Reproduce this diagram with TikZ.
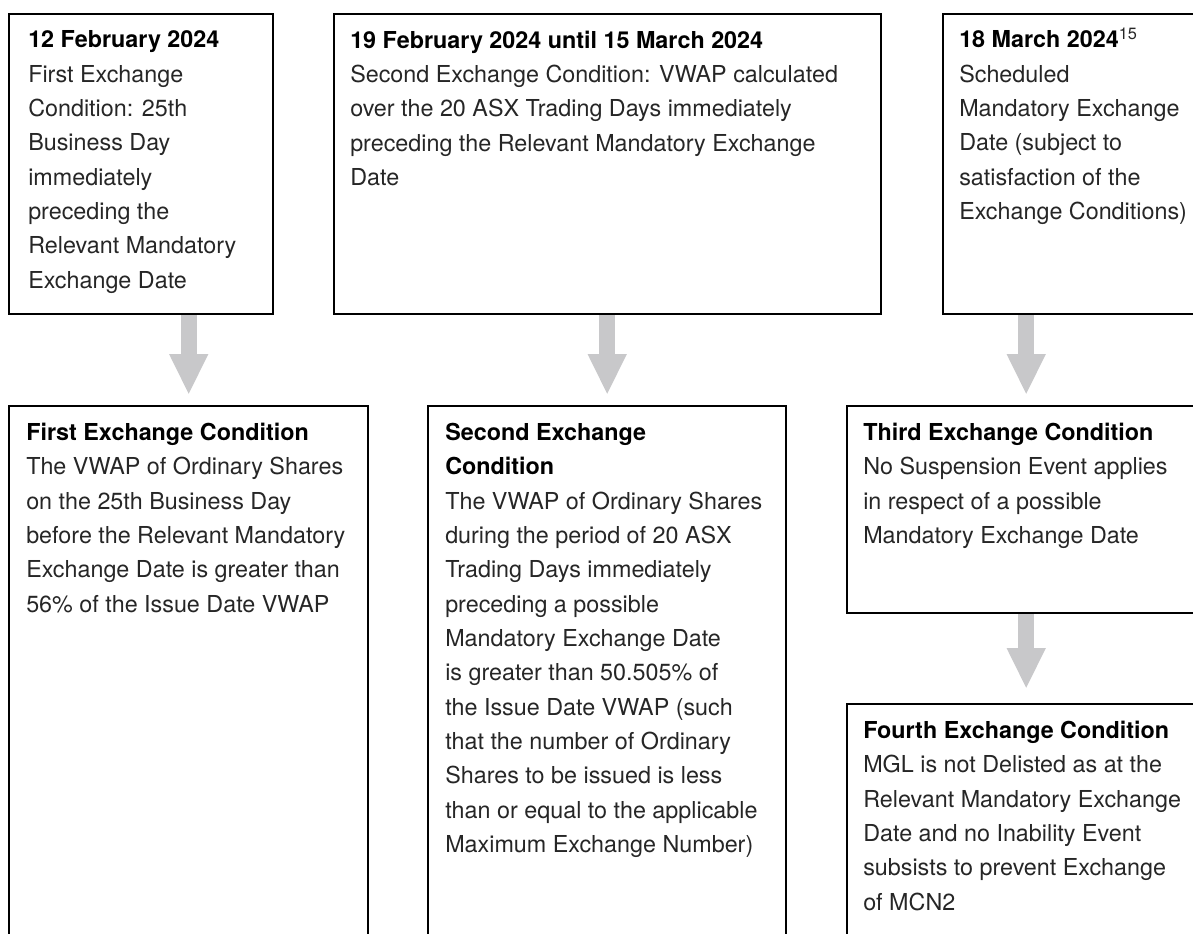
\documentclass[tikz,border=0pt]{standalone}
\usepackage{fontspec}
\setmainfont{TeX Gyre Heros}
\usetikzlibrary{arrows.meta}
\definecolor{arrowgray}{HTML}{C8C8CA}
\definecolor{bodytext}{HTML}{262626}
\newcommand{\hd}[1]{{\color{black}\bfseries #1}}
\begin{document}
\begin{tikzpicture}[x=0.75pt,y=-0.75pt,
  box/.style={draw=black, line width=1.8pt, anchor=north west, inner sep=0pt},
  txt/.style={anchor=north west, inner sep=0pt, align=left, text=bodytext,
    font=\fontsize{17.5}{25.75}\selectfont},
  bigarrow/.style={draw=arrowgray, line width=12pt,
    -{Triangle[width=27pt,length=30.75pt]}}]
\useasboundingbox (0,0) rectangle (1193,933);
\clip (0,0) rectangle (1193,933);

% boxes
\node[box, minimum width=264*0.75pt, minimum height=300*0.75pt] (t1) at (8,13) {};
\node[box, minimum width=547*0.75pt, minimum height=300*0.75pt] (t2) at (333,13) {};
\node[box, minimum width=262*0.75pt, minimum height=300*0.75pt] (t3) at (942,13) {};
\node[box, minimum width=359*0.75pt, minimum height=560*0.75pt] (bA) at (8,405) {};
\node[box, minimum width=358*0.75pt, minimum height=560*0.75pt] (bB) at (427,405) {};
\node[box, minimum width=358*0.75pt, minimum height=207*0.75pt] (bC) at (846,405) {};
\node[box, minimum width=358*0.75pt, minimum height=300*0.75pt] (bD) at (846,703) {};

% arrows
\draw[bigarrow, shorten >=7.5pt] (bA.north |- t1.south) -- (bA.north);
\draw[bigarrow, shorten >=7.5pt] (bB.north |- t2.south) -- (bB.north);
\draw[bigarrow, shorten >=7.5pt] (bC.north |- t3.south) -- (bC.north);
\draw[bigarrow, shorten >=10.5pt] (bC.south) -- (bD.north);

% texts
\node[txt] (t1t) at (28,30.5) {\hd{12 February 2024}\\First Exchange\\Condition: 25th\\Business Day\\immediately\\preceding the\\Relevant Mandatory\\Exchange Date};
\node[txt] (t2t) at (350,30.5) {\hd{19 February 2024 until 15 March 2024}\\Second Exchange Condition: VWAP calculated\\over the 20 ASX Trading Days immediately\\preceding the Relevant Mandatory Exchange\\Date};
\node[txt] (t3t) at (959,30.5) {\hd{18 March 2024}\smash{\textsuperscript{15}}\\Scheduled\\Mandatory Exchange\\Date (subject to\\satisfaction of the\\Exchange Conditions)};
\node[txt] (bAt) at (26,423) {\hd{First Exchange Condition}\\The VWAP of Ordinary Shares\\on the 25th Business Day\\before the Relevant Mandatory\\Exchange Date is greater than\\56\% of the Issue Date VWAP};
\node[txt] (bBt) at (445,423) {\hd{Second Exchange}\\\hd{Condition}\\The VWAP of Ordinary Shares\\during the period of 20 ASX\\Trading Days immediately\\preceding a possible\\Mandatory Exchange Date\\is greater than 50.505\% of\\the Issue Date VWAP (such\\that the number of Ordinary\\Shares to be issued is less\\than or equal to the applicable\\Maximum Exchange Number)};
\node[txt] (bCt) at (863,423) {\hd{Third Exchange Condition}\\No Suspension Event applies\\in respect of a possible\\Mandatory Exchange Date};
\node[txt] (bDt) at (863,721) {\hd{Fourth Exchange Condition}\\MGL is not Delisted as at the\\Relevant Mandatory Exchange\\Date and no Inability Event\\subsists to prevent Exchange\\of MCN2};
\end{tikzpicture}
\end{document}
